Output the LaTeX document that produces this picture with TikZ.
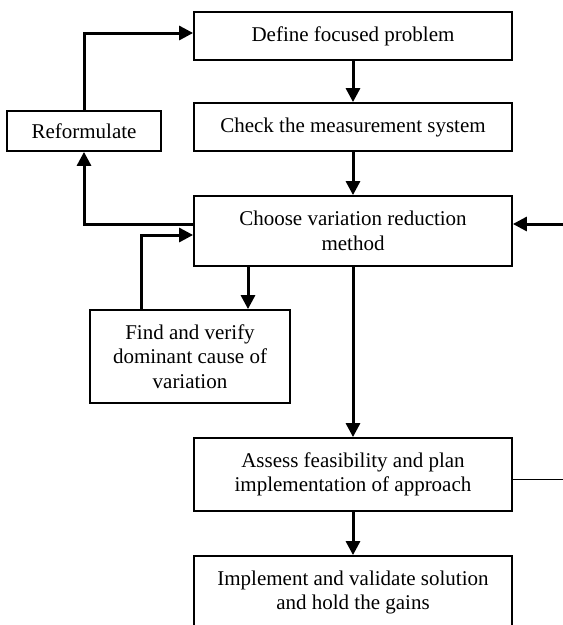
\documentclass[tikz,border=0pt]{standalone}
\usepackage{fontspec}
\setmainfont{Liberation Serif}
\usetikzlibrary{arrows.meta}

\begin{document}
\begin{tikzpicture}[x=1pt, y=-1pt,
    stepbox/.style={draw, line width=1.8pt, align=center, inner sep=0pt,
                    font=\fontsize{21}{24.5}\selectfont},
    flow/.style={line width=3pt, -{Triangle[length=14pt,width=14pt]}}]
          \useasboundingbox (0,0) rectangle (563,625);
          \node[stepbox, minimum width=318pt, minimum height=48pt](define)    at (353,36)    {Define focused problem};
          \node[stepbox, minimum width=318pt, minimum height=48pt](check)     at (353,127)   {Check the measurement system};
          \node[stepbox, minimum width=318pt, minimum height=70pt](choose)    at (353,231)   {Choose variation reduction\\ method};
          \node[stepbox, minimum width=154pt, minimum height=40pt](reform)    at (84,131)    {Reformulate};
          \node[stepbox, minimum width=200pt, minimum height=93pt](find)      at (190,356.5) {Find and verify\\ dominant cause of\\ variation};
          \node[stepbox, minimum width=318pt, minimum height=73pt](assess)    at (353,474.5) {Assess feasibility and plan\\ implementation of approach};
          \node[stepbox, minimum width=318pt, minimum height=73pt](implement) at (353,592.5) {Implement and validate solution\\ and hold the gains};
          \coordinate (fup)  at ([xshift=-49pt]find.north);
          \coordinate (fdn)  at ([xshift=58pt]find.north);
          \coordinate (rin)  at (563,224);
          \coordinate (rout) at (563,479);
        \path[flow]
          (define) edge (check)
          (check)  edge (choose)
          (choose) edge (assess)
          (assess) edge (implement)
          (choose.south -| fdn) edge (fdn)
          (rin) edge (rin -| choose.east)
          ;
          \draw[flow] ([yshift=7pt]choose.west) -| (reform.south);
          \draw[flow] (reform.north) |- ([yshift=3pt]define.west);
          \draw[flow] (fup) |- ([yshift=-4pt]choose.west);
          \draw[line width=1pt] (assess.east |- rout) -- (rout);
      \end{tikzpicture}
\end{document}
